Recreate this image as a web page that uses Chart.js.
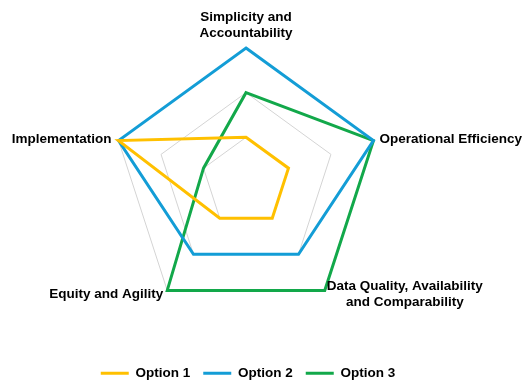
<!DOCTYPE html>
<html>
<head>
<meta charset="utf-8">
<script src="https://cdn.jsdelivr.net/npm/chart.js@4/dist/chart.umd.min.js"></script>
<style>
  html, body { margin: 0; padding: 0; background: #ffffff; }
  #wrap { width: 524px; height: 388px; }
</style>
</head>
<body>
<div id="wrap"><canvas id="c" width="524" height="388"></canvas></div>
<script>
// ---- data ----
const categories = [
  ["Simplicity and", "Accountability"],
  ["Operational Efficiency"],
  ["Data Quality, Availability", "and Comparability"],
  ["Equity and Agility"],
  ["Implementation"]
];
const seriesNames = ["Option 1", "Option 2", "Option 3"];
const option1 = [1, 1, 1, 1, 3];
const option2 = [3, 3, 2, 2, 3];
const option3 = [2, 3, 3, 3, 1];
const scaleMin = 0;
const scaleMax = 3;
const scaleStep = 1;

// ---- styles ----
const colors = ["#FFC000", "#139DD6", "#12A84A"];
const FONT = "'Liberation Sans', Arial, sans-serif";

// scale geometry (center / radius of the radar)
const GEOM = { cx: 246, cy: 182, r: 134 };

// custom point label drawer (centered multi-line blocks)
const pointLabelPlugin = {
  id: 'pointLabelPlugin',
  afterDraw(chart) {
    const scale = chart.scales.r;
    const ctx = chart.ctx;
    ctx.save();
    ctx.font = "bold 13.5px " + FONT;
    ctx.fillStyle = "#000000";
    ctx.textBaseline = "middle";
    ctx.textAlign = "center";
    const lh = 16;
    categories.forEach((lines, i) => {
      const p = scale.getPointPosition(i, scale.drawingArea);
      const w = Math.max(...lines.map(l => ctx.measureText(l).width));
      const h = lines.length * lh;
      let bx, by; // block center
      const dx = p.x - scale.xCenter;
      const dy = p.y - scale.yCenter;
      if (Math.abs(dx) < 1) {            // top
        bx = p.x; by = p.y - 7 - h / 2;
      } else if (dy > 20) {              // bottom
        by = p.y + 4;
        bx = dx > 0 ? p.x + 2 + w / 2 : p.x - 4 - w / 2;
      } else {                           // sides
        by = p.y - 1.5;
        bx = dx > 0 ? p.x + 6 + w / 2 : p.x - 7 - w / 2;
      }
      lines.forEach((l, k) => {
        ctx.fillText(l, bx, by - h / 2 + lh / 2 + k * lh);
      });
    });
    ctx.restore();
  }
};

const datasets = [option1, option2, option3].map((vals, k) => ({
  label: seriesNames[k],
  data: vals,
  borderColor: colors[k],
  backgroundColor: colors[k],
  borderWidth: 3,
  fill: false,
  pointRadius: 0,
  pointHoverRadius: 0,
  pointStyle: 'line',
  tension: 0
}));

new Chart(document.getElementById('c'), {
  type: 'radar',
  data: { labels: categories.map(l => l.join(' ')), datasets },
  options: {
    responsive: false,
    animation: false,
    layout: { padding: { left: 0, right: 28, top: 0, bottom: -2 } },
    plugins: {
      legend: {
        position: 'bottom',
        labels: {
          usePointStyle: true,
          pointStyle: 'line',
          pointStyleWidth: 28,
          boxHeight: 13,
          padding: 13,
          color: '#000000',
          font: { family: FONT, size: 13.5, weight: 'bold' }
        }
      },
      tooltip: { enabled: false }
    },
    scales: {
      r: {
        min: scaleMin,
        max: scaleMax,
        ticks: { stepSize: scaleStep, display: false },
        grid: { color: '#d4d4d4', lineWidth: 1 },
        angleLines: { display: false },
        pointLabels: { display: false },
        afterFit(scale) {
          scale.xCenter = GEOM.cx;
          scale.yCenter = GEOM.cy;
          scale.drawingArea = GEOM.r;
        }
      }
    }
  },
  plugins: [pointLabelPlugin]
});
</script>
</body>
</html>
